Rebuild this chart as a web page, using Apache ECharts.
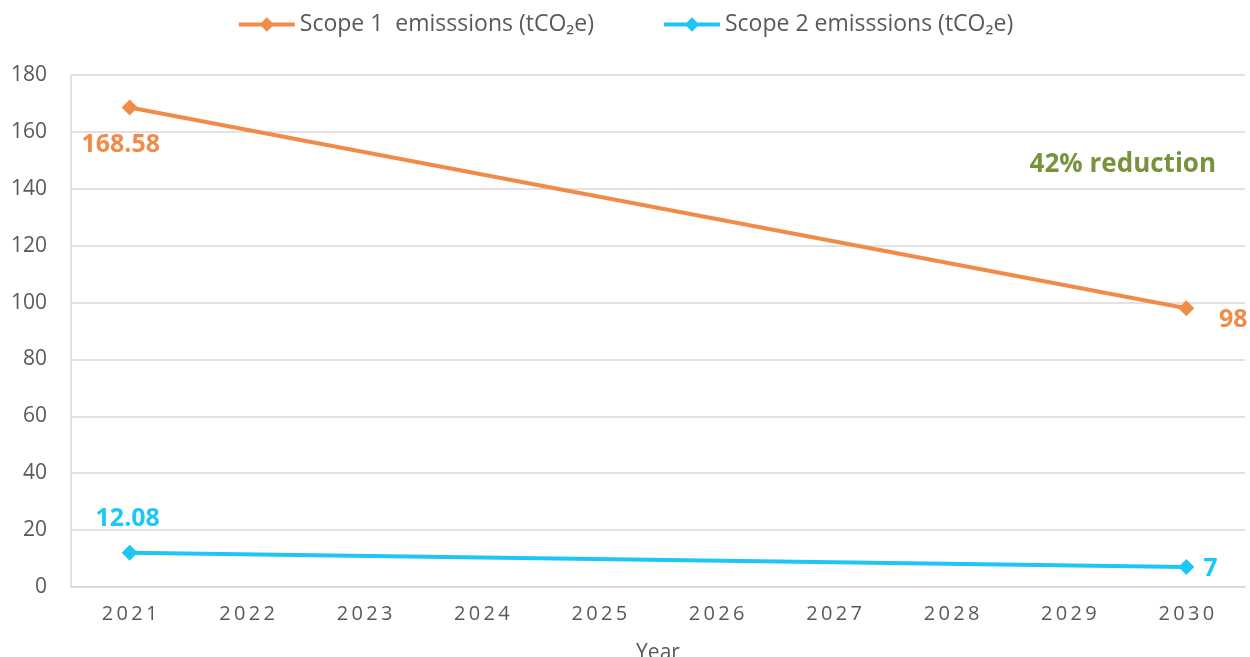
<!DOCTYPE html>
<html>
<head>
<meta charset="utf-8">
<script src="https://cdn.jsdelivr.net/npm/echarts@6/dist/echarts.min.js"></script>
<style>html,body{margin:0;padding:0;background:#fff}#c{width:1250px;height:657px}</style>
</head>
<body>
<div id="c"></div>
<script>
const years = ['2021','2022','2023','2024','2025','2026','2027','2028','2029','2030'];
const scope1 = [168.58, null, null, null, null, null, null, null, null, 98];
const scope2 = [12.08, null, null, null, null, null, null, null, null, 7];
const seriesNames = ['Scope 1  emisssions (tCO\u2082e)', 'Scope 2 emisssions (tCO\u2082e)'];
const yTicks = {min: 0, max: 180, interval: 20};
const note = '42% reduction';

const ORANGE = '#F08C48';
const CYAN = '#1EC6F8';
const FONT = '"Open Sans"';

const chart = echarts.init(document.getElementById('c'));
chart.setOption({
  animation: false,
  textStyle: {fontFamily: FONT},
  legend: {
    top: 8, left: 'center', itemWidth: 56, itemHeight: 18, itemGap: 68,
    lineStyle: {width: 4},
    textStyle: {fontSize: 23, color: '#595959', fontFamily: FONT},
    data: seriesNames
  },
  grid: {left: 71, right: 5, top: 75, bottom: 70, containLabel: false, outerBoundsMode: 'none'},
  xAxis: {
    type: 'category', data: years, boundaryGap: true,
    name: 'Year', nameLocation: 'middle', nameGap: 56,
    nameTextStyle: {fontSize: 21, color: '#595959', fontFamily: FONT},
    axisLine: {lineStyle: {color: '#D9D9D9', width: 1.5}},
    axisTick: {show: false},
    axisLabel: {fontSize: 20, color: '#595959', margin: 17, fontFamily: FONT,
      formatter: v => v.split('').join('\u2009')}
  },
  yAxis: {
    type: 'value', min: yTicks.min, max: yTicks.max, interval: yTicks.interval,
    axisLine: {show: true, lineStyle: {color: '#D9D9D9', width: 1.5}},
    axisTick: {show: false},
    axisLabel: {fontSize: 21, color: '#595959', margin: 24, fontFamily: FONT},
    splitLine: {lineStyle: {color: '#D9D9D9', width: 1.5}}
  },
  graphic: [{
    type: 'text', right: 34, top: 152,
    style: {text: note, fill: '#77933C', font: 'bold 26px "Open Sans"'}
  }],
  series: [
    {
      name: seriesNames[0], type: 'line', data: scope1, connectNulls: true,
      symbol: 'diamond', symbolSize: 16,
      lineStyle: {color: ORANGE, width: 4}, itemStyle: {color: ORANGE},
      label: {show: true, fontSize: 25, fontWeight: 'bold', color: ORANGE,
        position: 'bottom', fontFamily: FONT,
        formatter: p => String(p.value)},
      labelLayout: function (params) {
        if (params.dataIndex === 0) return {dx: -9, dy: 12};
        return {dx: 47, dy: -14};
      }
    },
    {
      name: seriesNames[1], type: 'line', data: scope2, connectNulls: true,
      symbol: 'diamond', symbolSize: 16,
      lineStyle: {color: CYAN, width: 4}, itemStyle: {color: CYAN},
      label: {show: true, fontSize: 25, fontWeight: 'bold', color: CYAN,
        position: 'top', fontFamily: FONT,
        formatter: p => String(p.value)},
      labelLayout: function (params) {
        if (params.dataIndex === 0) return {dx: -2, dy: -8};
        return {dx: 24, dy: 27};
      }
    }
  ]
});
</script>
</body>
</html>
